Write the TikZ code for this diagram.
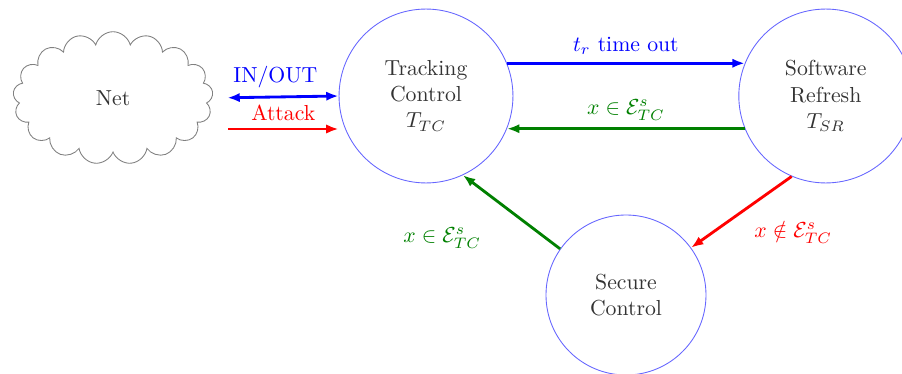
\documentclass[tikz,border=0pt]{standalone}
\usepackage{amsmath,amssymb}
\usetikzlibrary{positioning,arrows.meta,shapes.symbols}

\begin{document}
\begin{tikzpicture}[
    x=0.46pt, y=-0.46pt,
    state/.style={draw=blue!60, circle, minimum size=80pt, align=center, text=black!80},
    arrow/.style={-{Latex[length=2mm]}, line width=1.3pt},
    role/.style={font=\normalsize}
]
\useasboundingbox (0,0) rectangle (902,374);

\node[cloud, draw=black!50, cloud puffs=17, aspect=1.5, minimum width=92pt, minimum height=61pt, text=black!80] (net) at (113,98) {Net};
\node[state] (tc) at (426,96) {Tracking\\ Control\\ $T_{TC}$};
\node[state, right=103.5pt of tc] (sr) {Software\\ Refresh\\ $T_{SR}$};
\node[state, minimum size=73.6pt] (sc) at (626,295) {Secure\\ Control};

\coordinate (atk) at (228,129);

\draw[{Latex[length=2mm]}-{Latex[length=2mm]}, line width=1.3pt, blue, shorten <=7pt] (net.east) -- node[role, above] {IN/OUT} (tc.west);
\draw[arrow, red] (atk) -- node[role, above] {Attack} (atk -| tc.west);

\draw[arrow, blue] (tc.22) -- node[role, above] {$t_r$ time out} (sr.158);
\draw[arrow, green!50!black] (sr.202) -- node[role, above] {$x \in \mathcal{E}^s_{TC}$} (tc.-22);
\draw[arrow, red] (sr.247) -- node[role, below right=0pt and 2pt] {$x \notin \mathcal{E}^s_{TC}$} (sc.36);
\draw[arrow, green!50!black] (sc.145) -- node[role, below left=3pt and 10pt] {$x \in \mathcal{E}^s_{TC}$} (tc.295);

\end{tikzpicture}
\end{document}
